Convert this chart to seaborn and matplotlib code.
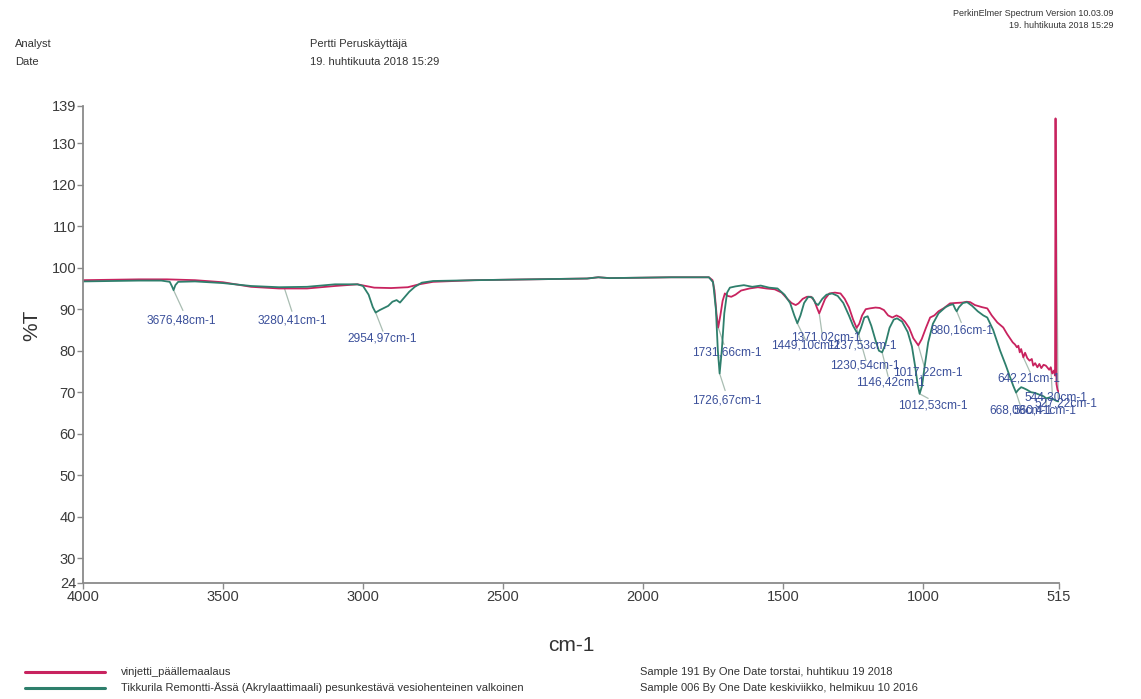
import numpy as np
import pandas as pd
import matplotlib
matplotlib.use("Agg")
import matplotlib.pyplot as plt
from matplotlib.lines import Line2D
import seaborn as sns

# ---- spectra: wavenumber (cm-1) and transmittance (%T) ----
green_wn = [4000, 3900, 3800, 3720, 3690, 3682, 3676.48, 3670, 3660, 3600, 3500, 3400,
            3300, 3280.41, 3200, 3100, 3020, 3000, 2980, 2965, 2954.97, 2940, 2925, 2910,
            2895, 2880, 2868, 2855, 2835, 2815, 2790, 2750, 2600, 2400, 2200, 2160, 2120,
            2000, 1900, 1800, 1765, 1750, 1740, 1733, 1726.67, 1719, 1710, 1700, 1690,
            1670, 1640, 1610, 1580, 1550, 1520, 1495, 1475, 1460, 1449.10, 1438, 1425,
            1410, 1395, 1385, 1375, 1360, 1345, 1325, 1305, 1285, 1265, 1250, 1237.53,
            1230.54, 1222, 1210, 1198, 1185, 1170, 1158, 1146.42, 1135, 1120, 1105, 1093,
            1075, 1055, 1040, 1028, 1020, 1012.53, 1004, 995, 982, 965, 945, 920, 905,
            893, 885, 880.16, 872, 858, 843, 825, 805, 785, 771, 750, 725, 705, 689, 678,
            668.08, 660, 650, 642.21, 630, 615, 600, 585, 570, 560.41, 550, 544.30, 535,
            527.22, 520, 515]
green_t = [96.7, 96.8, 96.9, 96.9, 96.6, 95.5, 94.6, 95.8, 96.6, 96.7, 96.3, 95.6,
           95.3, 95.3, 95.4, 96.0, 96.0, 95.6, 93.5, 90.5, 89.2, 89.8, 90.3, 90.8,
           91.8, 92.2, 91.6, 92.6, 94.2, 95.4, 96.4, 96.8, 97.0, 97.2, 97.4, 97.7, 97.5,
           97.6, 97.7, 97.7, 97.7, 96.5, 90.0, 80.0, 74.5, 80.0, 89.0, 94.0, 95.2,
           95.5, 95.8, 95.4, 95.7, 95.2, 95.0, 93.5, 91.5, 88.5, 86.6, 88.5, 91.5,
           93.0, 92.8, 91.5, 91.0, 92.5, 93.5, 93.8, 93.2, 91.5, 88.5, 86.0, 84.5,
           84.0, 85.5, 88.0, 88.3, 86.0, 82.5, 80.0, 79.6, 81.5, 85.5, 87.5, 87.8,
           87.0, 84.5, 81.0, 76.0, 72.0, 69.6, 71.5, 76.0, 82.0, 86.5, 89.0, 90.5, 91.0,
           91.2, 90.0, 89.5, 90.5, 91.5, 91.7, 90.8, 89.5, 88.5, 88.0, 85.0, 80.0, 76.5, 73.5, 71.5,
           69.9, 70.6, 71.2, 71.0, 70.6, 70.0, 69.8, 69.4, 69.0, 68.5, 68.7, 68.4, 68.3,
           68.0, 67.8, 67.8]

red_wn = [4000, 3900, 3800, 3700, 3600, 3500, 3400, 3300, 3280.41, 3200, 3100, 3020, 2990,
          2960, 2900, 2840, 2800, 2750, 2600, 2400, 2200, 2160, 2120, 2000, 1900, 1800,
          1765, 1752, 1745, 1738, 1731.66, 1724, 1716, 1708, 1698, 1685, 1670, 1650, 1620,
          1590, 1560, 1530, 1505, 1485, 1470, 1455, 1445, 1430, 1415, 1400, 1388, 1380,
          1371.02, 1362, 1350, 1335, 1315, 1295, 1280, 1265, 1250, 1237.53, 1228, 1218,
          1205, 1190, 1170, 1155, 1140, 1125, 1110, 1095, 1080, 1065, 1050, 1035, 1017.22,
          1005, 990, 975, 960, 945, 925, 904, 885, 860, 845, 832, 815, 790, 771, 755, 735,
          714, 700, 690, 680, 672, 665, 660, 655, 650, 642.21, 636, 628, 620, 612, 607,
          600, 592, 585, 578, 570, 562, 557, 550, 544.30, 539, 533, 529, 527.22, 524,
          520, 515]
red_t = [97.0, 97.1, 97.2, 97.2, 97.0, 96.5, 95.4, 95.0, 95.0, 95.0, 95.6, 96.0, 95.6,
         95.2, 95.1, 95.3, 96.0, 96.6, 97.0, 97.2, 97.4, 97.7, 97.5, 97.6, 97.7, 97.7,
         97.7, 97.0, 94.5, 89.0, 85.6, 88.5, 92.0, 93.8, 93.2, 93.0, 93.5, 94.5, 95.0,
         95.3, 95.0, 94.8, 94.0, 92.5, 91.5, 91.0, 91.4, 92.5, 93.0, 93.0, 92.0, 90.5,
         89.0, 90.5, 92.5, 93.8, 94.0, 93.8, 92.5, 90.5, 87.5, 85.5, 86.5, 88.5,
         90.0, 90.2, 90.4, 90.3, 89.8, 88.5, 88.0, 88.5, 88.0, 87.0, 85.5, 83.0, 81.3,
         82.8, 85.5, 88.0, 88.5, 89.5, 90.3, 91.4, 91.5, 91.6, 91.8, 91.7, 91.0, 90.5, 90.2, 88.5, 86.8,
         85.6, 84.0, 83.0, 82.0, 81.5, 80.8, 81.2, 79.6, 80.4, 78.4, 79.5, 78.2, 77.6, 78.0, 76.4,
         77.0, 76.0, 76.8, 75.8, 76.6, 76.4, 76.0, 75.4, 76.0, 74.5, 75.2, 74.0, 136.0, 72.0,
         70.5, 70.0]

series_names = ["vinjetti_päällemaalaus",
                "Tikkurila Remontti-Ässä (Akrylaattimaali) pesunkestävä vesiohenteinen valkoinen"]
sample_info = ["Sample 191 By One Date torstai, huhtikuu 19 2018",
               "Sample 006 By One Date keskiviikko, helmikuu 10 2016"]
line_colors = ["#c8235f", "#2e7f6c"]

x_ticks = [4000, 3500, 3000, 2500, 2000, 1500, 1000, 515]
y_ticks = [24, 30, 40, 50, 60, 70, 80, 90, 100, 110, 120, 130, 139]

# peak labels: (peak wavenumber, series index, label centre, leader end)
peaks = [
    (3676.48, 1, (3650, 87.3), (3643, 89.7)),
    (3280.41, 0, (3254, 87.3), (3254, 89.5)),
    (2954.97, 1, (2932, 83.0), (2929, 84.7)),
    (1731.66, 0, (1700, 79.6), (1711, 81.5)),
    (1726.67, 1, (1700, 68.0), (1707, 70.4)),
    (1449.10, 1, (1418, 81.3), (1420, 82.6)),
    (1371.02, 0, (1346, 83.3), (1361, 84.2)),
    (1237.53, 0, (1218, 81.3), (1225, 82.5)),
    (1230.54, 1, (1207, 76.4), (1204, 77.6)),
    (1146.42, 1, (1118, 72.3), (1125, 73.8)),
    (1017.22, 0, (982, 74.7), (996, 76.2)),
    (1012.53, 1, (964, 66.8), (982, 68.5)),
    (880.16, 1, (861, 84.9), (864, 86.8)),
    (642.21, 0, (621, 73.3), (618, 74.8)),
    (668.08, 1, (653, 65.6), (654, 67.0)),
    (560.41, 1, (564, 65.6), (561, 67.0)),
    (544.30, 0, (525, 68.7), (539, 69.9)),
    (527.22, 0, (489, 67.2), (518, 68.5)),
]

# ---- assemble long-form table ----
df = pd.concat([
    pd.DataFrame({"wn": red_wn, "T": red_t, "sample": series_names[0]}),
    pd.DataFrame({"wn": green_wn, "T": green_t, "sample": series_names[1]}),
], ignore_index=True)

sns.set_theme(style="ticks")
plt.rcParams["font.family"] = ["Liberation Sans", "DejaVu Sans"]

fig = plt.figure(figsize=(11.41, 6.99), dpi=100)
ax = fig.add_axes([0.0727, 0.166, 0.8554, 0.6824])

sns.lineplot(data=df, x="wn", y="T", hue="sample", palette=line_colors,
             hue_order=series_names, estimator=None, sort=True, linewidth=1.3,
             legend=False, ax=ax)

ax.set_xlim(4000, 515)
ax.set_ylim(24, 139)
ax.set_xticks(x_ticks)
ax.set_xticklabels([str(v) for v in x_ticks])
ax.set_yticks(y_ticks)
ax.set_yticklabels([str(v) for v in y_ticks])
ax.set_xlabel("")
ax.set_ylabel("")
sns.despine(ax=ax)
for side in ("left", "bottom"):
    ax.spines[side].set_color("#8a8a8a")
    ax.spines[side].set_linewidth(1.3)
ax.tick_params(axis="both", colors="#8a8a8a", labelcolor="#3a3a3a",
               labelsize=10.5, length=4, width=1, direction="out", pad=1)

# ---- peak annotations ----
series_xy = [(np.array(red_wn), np.array(red_t)), (np.array(green_wn), np.array(green_t))]
for wn, idx, (lx, ly), (ex, ey) in peaks:
    xs, ys = series_xy[idx]
    y0 = float(np.interp(wn, xs[::-1], ys[::-1]))
    ax.plot([wn, ex], [y0, ey], color="#a9bdb2", linewidth=0.9, zorder=1, clip_on=False)
    label = f"{wn:.2f}".replace(".", ",") + "cm-1"
    ax.text(lx, ly, label, ha="center", va="center", fontsize=8.6,
            color="#3a4f9a", zorder=4, clip_on=False)

# ---- axis titles ----
fig.text(0.028, 0.535, "%T", rotation=90, ha="center", va="center",
         fontsize=15, color="#333333")
fig.text(0.5005, 0.077, "cm-1", ha="center", va="center", fontsize=15, color="#333333")

# ---- header ----
hdr = dict(fontsize=8, color="#333333")
fig.text(0.013, 1 - 44 / 699, "Analyst", va="center", **hdr)
fig.text(0.013, 1 - 62 / 699, "Date", va="center", **hdr)
fig.text(0.272, 1 - 44 / 699, "Pertti Peruskäyttäjä", va="center", **hdr)
fig.text(0.272, 1 - 62 / 699, "19. huhtikuuta 2018 15:29", va="center", **hdr)
fig.text(0.976, 1 - 14 / 699, "PerkinElmer Spectrum Version 10.03.09", ha="right",
         va="center", fontsize=6.5, color="#333333")
fig.text(0.976, 1 - 26 / 699, "19. huhtikuuta 2018 15:29", ha="right",
         va="center", fontsize=6.5, color="#333333")

# ---- legend block ----
for i, (name, info, col) in enumerate(zip(series_names, sample_info, line_colors)):
    yy = 1 - (672 + 16 * i) / 699
    fig.add_artist(Line2D([0.022, 0.092], [yy, yy], color=col, linewidth=2.2,
                          transform=fig.transFigure))
    fig.text(0.106, yy, name, va="center", fontsize=8, color="#333333")
    fig.text(0.561, yy, info, va="center", fontsize=8, color="#333333")

fig.savefig("out.png", dpi=100, facecolor="white")
